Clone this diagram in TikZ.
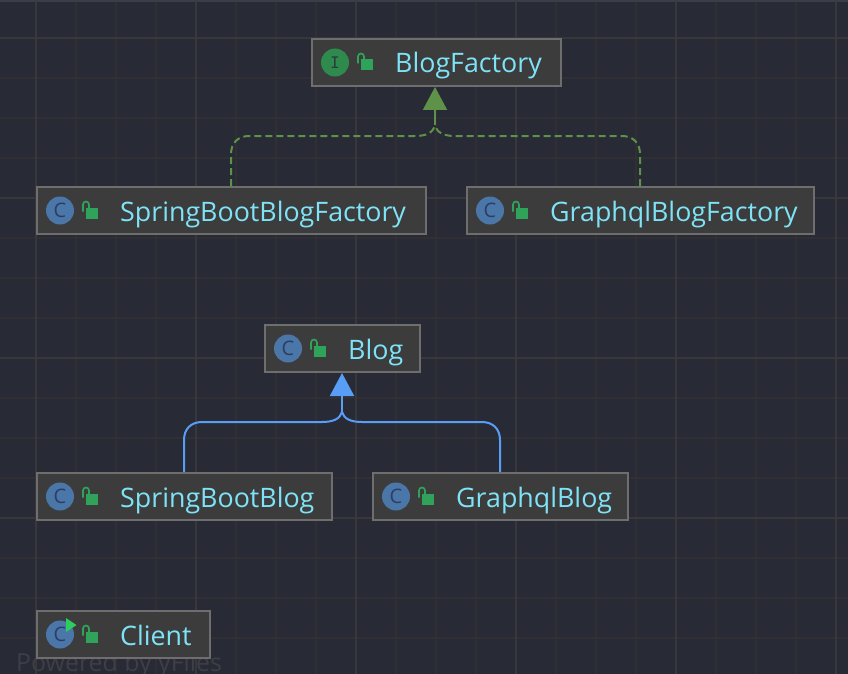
\documentclass[tikz,border=0pt]{standalone}
\usepackage{fontspec}
\setmainfont{Open Sans}
\newfontfamily\iconmono{DejaVu Sans Mono}
\usetikzlibrary{arrows.meta}
\definecolor{bgc}{HTML}{282A36}
\definecolor{topstrip}{HTML}{3A3D4A}
\definecolor{wmc}{HTML}{3D3F45}
\definecolor{gridminor}{HTML}{303034}
\definecolor{gridmajor}{HTML}{38383A}
\definecolor{boxfill}{HTML}{3C3C3C}
\definecolor{boxline}{HTML}{6E6E6E}
\definecolor{labelc}{HTML}{7FE3F7}
\definecolor{classc}{HTML}{4A76A8}
\definecolor{classl}{HTML}{2C3E66}
\definecolor{ifacec}{HTML}{2F8A4E}
\definecolor{ifacel}{HTML}{27403A}
\definecolor{lockc}{HTML}{2FA35A}
\definecolor{playc}{HTML}{2ECC5E}
\definecolor{implc}{HTML}{5F9249}
\definecolor{extc}{HTML}{589DF6}
\tikzset{
  x=1pt,y=-1pt,
  umlbox/.style={draw=boxline,fill=boxfill,line width=2pt,anchor=north west,inner sep=0pt,outer sep=0pt},
  umllabel/.style={text=labelc,anchor=base west,inner sep=0pt,font=\fontsize{26.8}{30}\selectfont},
  kindicon/.style={circle,minimum size=28pt,inner sep=0pt,text=#1,font=\fontsize{20}{22}\selectfont},
  implline/.style={draw=implc,line width=2pt,dash pattern=on 7pt off 4pt},
  extline/.style={draw=extc,line width=2pt},
  impltip/.style={draw=implc,line width=2pt,-{Triangle[length=23pt,width=24pt,fill=implc]}},
  exttip/.style={draw=extc,line width=2pt,-{Triangle[length=23pt,width=24pt,fill=extc]}},
}
\newcommand{\umlnode}[8]{%
  \node[umlbox,minimum width=#4 pt,minimum height=47pt] (#1) at (#2,#3) {};
  \node[kindicon=#7,fill=#6] (#1icon) at (#2+23,#3+23.5) {#8};
  \fill[lockc] (#2+49,#3+20.5) rectangle (#2+60.5,#3+31.5);
  \draw[lockc,line width=1.7pt] (#2+46,#3+24.5) -- (#2+46,#3+17.5) arc[start angle=180,end angle=360,radius=3] -- (#2+52,#3+21.5);
  \node[umllabel] (#1text) at (#2+83,#3+34) {#5};
}
\begin{document}
\begin{tikzpicture}
\useasboundingbox (0,0) rectangle (848,674);
\fill[bgc] (0,0) rectangle (848,674);
\fill[topstrip] (0,0) rectangle (848,2);
% grid
\foreach \v in {76,116,156,236,276,316,396,436,476,556,596,636,716,756,796}
  \draw[gridminor,line width=1.5pt] (\v,2) -- (\v,674);
\foreach \h in {78,118,158,238,278,318,398,438,478,558,598,638}
  \draw[gridminor,line width=1.5pt] (0,\h) -- (848,\h);
\foreach \v in {36,196,356,516,676,836}
  \draw[gridmajor,line width=1.5pt] (\v,2) -- (\v,674);
\foreach \h in {38,198,358,518}
  \draw[gridmajor,line width=1.5pt] (0,\h) -- (848,\h);
% watermark
\node[anchor=base west,inner sep=0pt,text=wmc,font=\fontsize{24.9}{28}\selectfont] (wm) at (16,671) {Powered by yFiles};
% nodes
\umlnode{bf}{312}{39}{249}{BlogFactory}{ifacec}{ifacel}{\fontsize{16}{18}\selectfont\iconmono I}
\umlnode{sbf}{37}{187}{389}{SpringBootBlogFactory}{classc}{classl}{C}
\umlnode{gbf}{467}{187}{347}{GraphqlBlogFactory}{classc}{classl}{C}
\umlnode{blog}{265}{325}{155}{Blog}{classc}{classl}{C}
\umlnode{sb}{37}{473}{295}{SpringBootBlog}{classc}{classl}{C}
\umlnode{gb}{373}{473}{255}{GraphqlBlog}{classc}{classl}{C}
\umlnode{cl}{37}{611}{173}{Client}{classc}{classl}{C}
\fill[playc] (66,618) -- (76.5,625) -- (66,632) -- cycle;
% connector anchors
\coordinate (bfin) at (435,87);
\coordinate (bfmerge) at (435,125);
\coordinate (sbfout) at (231,186);
\coordinate (gbfout) at (640,186);
\coordinate (blogin) at (342,373);
\coordinate (blogmerge) at (342,412);
\coordinate (sbout) at (184,472);
\coordinate (gbout) at (500,472);
% connectors
\draw[impltip] (bfmerge) -- (bfin);
\draw[implline] (sbfout) -- (231,154) .. controls (231,143) and (238,136) .. (249,136) -- (415,136) .. controls (426,136) and (433,133) .. (bfmerge);
\draw[implline] (gbfout) -- (640,154) .. controls (640,143) and (633,136) .. (622,136) -- (455,136) .. controls (444,136) and (437,133) .. (bfmerge);
\draw[exttip] (blogmerge) -- (blogin);
\draw[extline] (sbout) -- (184,440) .. controls (184,429) and (191,422) .. (202,422) -- (322,422) .. controls (333,422) and (340,419) .. (blogmerge);
\draw[extline] (gbout) -- (500,440) .. controls (500,429) and (493,422) .. (482,422) -- (362,422) .. controls (351,422) and (344,419) .. (blogmerge);
\end{tikzpicture}
\end{document}
